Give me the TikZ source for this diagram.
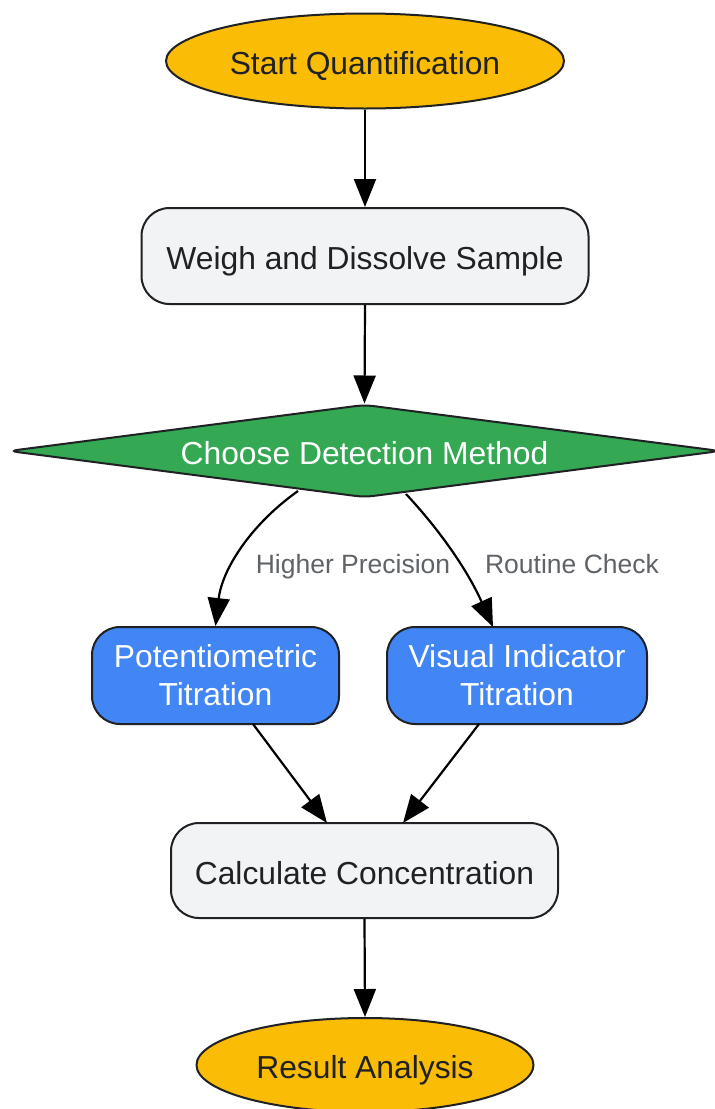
\documentclass[tikz,border=0pt]{standalone}
\usepackage{fontspec}
\setmainfont{Liberation Sans}
\usetikzlibrary{shapes.geometric,arrows.meta}
\definecolor{gyellow}{HTML}{FBBC05}
\definecolor{ggray}{HTML}{F1F3F4}
\definecolor{ggreen}{HTML}{34A853}
\definecolor{gblue}{HTML}{4285F4}
\definecolor{dtext}{HTML}{202124}
\definecolor{lbl}{HTML}{5F6368}
\tikzset{
  base/.style={draw=dtext, line width=2pt, inner sep=0pt, align=center,
    font=\fontsize{31.8}{38}\selectfont},
  oneline/.style={text height=32pt, text depth=5pt},
  term/.style={base, oneline, ellipse, fill=gyellow, text=dtext},
  proc/.style={base, oneline, rectangle, rounded corners=28pt, fill=ggray, text=dtext},
  meth/.style={base, rectangle, rounded corners=28pt, fill=gblue, text=white},
  dec/.style={base, oneline, diamond, fill=ggreen, text=white, rounded corners=9pt},
  conn/.style={line width=2.2pt, -{Triangle[length=28pt,width=22pt]}},
  elabel/.style={text=lbl, font=\fontsize{26.5}{30}\selectfont, inner sep=2pt,
    text height=22pt, text depth=2pt}
}
\begin{document}
\begin{tikzpicture}[x=1pt,y=-1pt]
\useasboundingbox (0,0) rectangle (715,1109);
\node[term, minimum width=398pt, minimum height=95pt] (start) at (365,61) {Start Quantification};
\node[proc, minimum width=447pt, minimum height=96pt] (weigh) at (365,256) {Weigh and Dissolve Sample};
\node[dec, minimum width=712pt, minimum height=93pt, aspect=7.7] (choose) at (364.5,451) {Choose Detection Method};
\node[meth, minimum width=247pt, minimum height=97pt] (pot) at (215.5,675.5) {Potentiometric\\Titration};
\node[meth, minimum width=260pt, minimum height=97pt] (vis) at (517,675.5) {Visual Indicator\\Titration};
\node[proc, minimum width=387pt, minimum height=95pt] (calc) at (364.5,870.5) {Calculate Concentration};
\node[term, minimum width=337pt, minimum height=94pt] (res) at (365,1065) {Result Analysis};

\coordinate (cl) at (298,491);
\coordinate (cr) at (406,494);
\coordinate (pb) at (253,724);
\coordinate (vb) at (479,724);
\coordinate (ct1) at (327,823);
\coordinate (ct2) at (403,823);

\draw[conn] (start.south) -- (weigh.north);
\draw[conn] (weigh.south) -- (choose.north);
\draw[conn] (cl) .. controls (250,525) and (222,570) .. (pot.north);
\draw[conn] (cr) .. controls (435,525) and (465,565) .. (493,627);
\draw[conn] (pb) -- (ct1);
\draw[conn] (vb) -- (ct2);
\draw[conn] (calc.south) -- (res.north);

\node[elabel] (l1) at (353,563) {Higher Precision};
\node[elabel] (l2) at (572,563) {Routine Check};
\end{tikzpicture}
\end{document}
